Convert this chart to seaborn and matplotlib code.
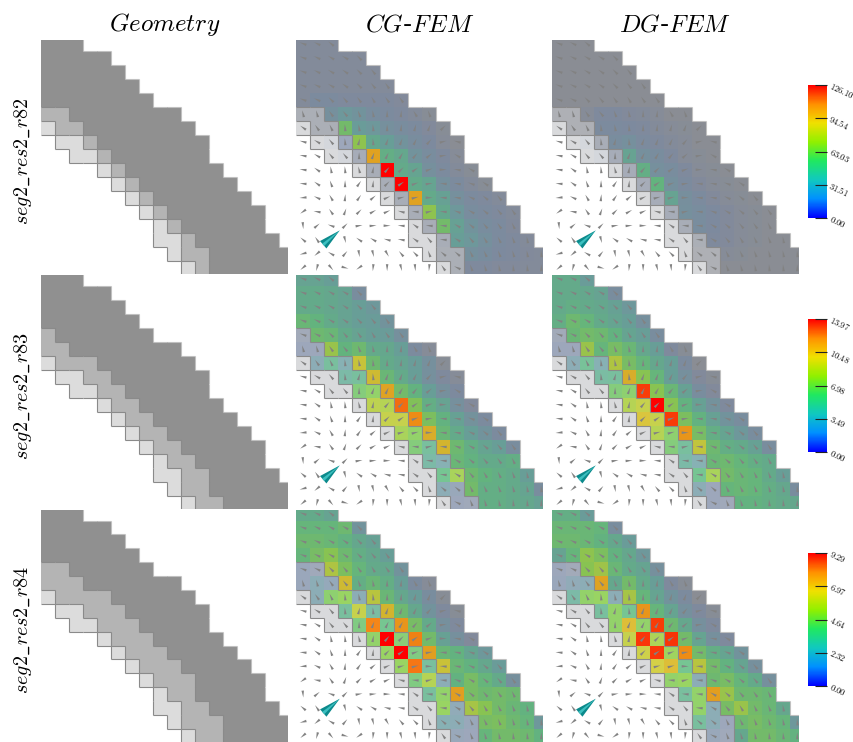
import numpy as np
import matplotlib
matplotlib.use('Agg')
import matplotlib.pyplot as plt
import seaborn as sns
from matplotlib.colors import LinearSegmentedColormap, ListedColormap, Normalize
from matplotlib.cm import ScalarMappable

plt.rcParams['mathtext.fontset'] = 'cm'

W, H = 854, 742
titles = [r'$\mathit{Geometry}$', r'$\mathit{CG}$-$\mathit{FEM}$', r'$\mathit{DG}$-$\mathit{FEM}$']
row_names = [r'$\mathit{seg2\_res2\_r82}$', r'$\mathit{seg2\_res2\_r83}$', r'$\mathit{seg2\_res2\_r84}$']
vmax_rows = [126.10, 13.97, 9.29]
tick_rows = [[0.00, 31.51, 63.03, 94.54, 126.10],
             [0.00, 3.49, 6.98, 10.48, 13.97],
             [0.00, 2.32, 4.64, 6.97, 9.29]]

# number of filled cells in each row (top right is outside the mesh)
row_len = [3, 5, 6, 7, 8, 10, 11, 12, 12, 13, 14, 15, 16, 16, 17, 18, 18]

# per row: air cells, light cells, mid cells, the rest is dark
geo_r82 = [[0, 0, 0]] * 5 + [[0, 0, 2], [0, 1, 2], [1, 2, 1], [2, 2, 1], [4, 1, 1], [5, 1, 1], [6, 1, 1],
                             [7, 1, 1], [8, 1, 1], [8, 2, 1], [9, 1, 2], [10, 1, 1]]
geo_r83 = [[0, 0, 0]] * 4 + [[0, 0, 1], [0, 0, 2], [0, 1, 3], [1, 2, 2], [2, 2, 2], [4, 1, 2], [5, 1, 2],
                             [6, 1, 2], [7, 1, 2], [8, 1, 2], [8, 2, 2], [9, 1, 2], [10, 1, 2]]
geo_r84 = [[0, 0, 0]] * 4 + [[0, 0, 2], [0, 0, 3], [0, 1, 4], [1, 2, 3], [2, 2, 3], [4, 1, 3], [5, 1, 3],
                             [6, 1, 3], [7, 1, 3], [8, 1, 2], [8, 2, 2], [9, 1, 3], [10, 1, 2]]

# cell values, percent of the colour bar range
cg_r82 = [
    [6, 6, 6],
    [6, 6, 6, 6, 6],
    [6, 6, 6, 6, 6, 6],
    [6, 6, 6, 6, 6, 6, 6],
    [6, 10, 10, 8, 8, 8, 8, 7],
    [3, 3, 14, 18, 16, 12, 10, 8, 6, 4],
    [1, 3, 3, 42, 20, 18, 14, 12, 10, 7, 4],
    [0, 1, 2, 8, 52, 28, 22, 16, 12, 9, 5, 3],
    [0, 0, 1, 2, 5, 75, 32, 28, 16, 12, 8, 5],
    [0, 0, 0, 0, 1, 4, 100, 30, 26, 14, 10, 6, 4],
    [0, 0, 0, 0, 0, 1, 4, 100, 30, 26, 14, 10, 6, 4],
    [0, 0, 0, 0, 0, 0, 1, 4, 75, 30, 24, 14, 10, 8, 6],
    [0, 0, 0, 0, 0, 0, 0, 1, 4, 52, 28, 18, 12, 10, 8, 6],
    [0, 0, 0, 0, 0, 0, 0, 0, 1, 4, 42, 24, 16, 12, 10, 7],
    [0, 0, 0, 0, 0, 0, 0, 0, 1, 1, 4, 22, 18, 14, 10, 8, 6],
    [0, 0, 0, 0, 0, 0, 0, 0, 0, 1, 3, 3, 14, 12, 9, 8, 7, 6],
    [0, 0, 0, 0, 0, 0, 0, 0, 0, 0, 1, 3, 8, 8, 7, 7, 6, 6],
]
dg_r82 = [
    [3, 3, 3],
    [3, 3, 3, 3, 3],
    [3, 3, 3, 3, 3, 3],
    [3, 3, 3, 3, 3, 3, 3],
    [3, 3, 3, 3, 3, 3, 3, 3],
    [2, 2, 5, 8, 8, 7, 6, 5, 3, 3],
    [1, 2, 2, 10, 10, 9, 8, 6, 5, 4, 3],
    [0, 1, 2, 4, 12, 14, 10, 8, 6, 5, 3, 3],
    [0, 0, 1, 2, 5, 25, 14, 12, 8, 5, 4, 3],
    [0, 0, 0, 0, 1, 5, 32, 14, 12, 8, 5, 4, 3],
    [0, 0, 0, 0, 0, 1, 5, 35, 14, 10, 7, 5, 4, 3],
    [0, 0, 0, 0, 0, 0, 1, 5, 25, 13, 10, 7, 5, 4, 3],
    [0, 0, 0, 0, 0, 0, 0, 1, 5, 14, 12, 9, 7, 5, 4, 3],
    [0, 0, 0, 0, 0, 0, 0, 0, 1, 4, 12, 9, 7, 5, 4, 3],
    [0, 0, 0, 0, 0, 0, 0, 0, 1, 1, 3, 8, 7, 5, 4, 3, 3],
    [0, 0, 0, 0, 0, 0, 0, 0, 0, 1, 2, 2, 5, 4, 3, 3, 3, 3],
    [0, 0, 0, 0, 0, 0, 0, 0, 0, 0, 1, 2, 3, 3, 3, 3, 3, 3],
]
cg_r83 = [
    [25, 25, 22],
    [30, 30, 28, 25, 12],
    [30, 30, 28, 25, 22, 18],
    [38, 35, 30, 25, 22, 20, 16],
    [6, 40, 38, 30, 25, 22, 20, 14],
    [8, 8, 55, 35, 40, 30, 28, 22, 10, 5],
    [1, 16, 30, 18, 65, 40, 30, 26, 20, 14, 4],
    [0, 1, 1, 26, 30, 68, 38, 30, 22, 14, 8, 5],
    [0, 0, 1, 1, 42, 48, 75, 42, 34, 22, 14, 9],
    [0, 0, 0, 0, 1, 60, 58, 85, 48, 32, 25, 14, 7],
    [0, 0, 0, 0, 0, 1, 62, 62, 80, 46, 34, 24, 15, 10],
    [0, 0, 0, 0, 0, 0, 1, 55, 48, 72, 38, 30, 22, 16, 10],
    [0, 0, 0, 0, 0, 0, 0, 1, 42, 30, 70, 40, 32, 26, 22, 12],
    [0, 0, 0, 0, 0, 0, 0, 0, 1, 26, 18, 38, 34, 30, 30, 32],
    [0, 0, 0, 0, 0, 0, 0, 0, 1, 1, 34, 55, 40, 35, 32, 30, 22],
    [0, 0, 0, 0, 0, 0, 0, 0, 0, 1, 16, 10, 42, 32, 32, 30, 26, 12],
    [0, 0, 0, 0, 0, 0, 0, 0, 0, 0, 1, 8, 7, 32, 32, 30, 28, 24],
]
dg_r83 = [
    [30, 30, 20],
    [30, 30, 28, 25, 12],
    [30, 32, 30, 28, 24, 18],
    [32, 40, 36, 30, 26, 22, 14],
    [6, 38, 42, 40, 34, 26, 22, 12],
    [8, 8, 55, 36, 44, 38, 28, 22, 8, 4],
    [1, 16, 32, 18, 60, 44, 36, 28, 22, 10, 3],
    [0, 1, 1, 28, 30, 72, 50, 36, 22, 14, 7, 4],
    [0, 0, 1, 1, 42, 46, 92, 50, 38, 24, 12, 7],
    [0, 0, 0, 0, 1, 58, 62, 100, 50, 34, 24, 15, 8],
    [0, 0, 0, 0, 0, 1, 68, 62, 92, 46, 34, 24, 16, 12],
    [0, 0, 0, 0, 0, 0, 1, 58, 46, 78, 44, 32, 26, 18, 12],
    [0, 0, 0, 0, 0, 0, 0, 1, 42, 30, 64, 40, 32, 30, 24, 12],
    [0, 0, 0, 0, 0, 0, 0, 0, 1, 26, 18, 38, 40, 36, 32, 30],
    [0, 0, 0, 0, 0, 0, 0, 0, 1, 1, 34, 55, 42, 38, 36, 30, 22],
    [0, 0, 0, 0, 0, 0, 0, 0, 0, 1, 16, 8, 36, 38, 36, 32, 28, 12],
    [0, 0, 0, 0, 0, 0, 0, 0, 0, 0, 1, 8, 7, 34, 34, 32, 30, 28],
]
cg_r84 = [
    [30, 30, 25],
    [36, 36, 36, 40, 16],
    [40, 40, 38, 34, 28, 24],
    [36, 44, 50, 40, 32, 28, 22],
    [9, 7, 60, 46, 36, 30, 28, 16],
    [9, 16, 12, 68, 32, 38, 32, 22, 10, 5],
    [1, 16, 46, 50, 16, 62, 38, 28, 20, 12, 4],
    [0, 1, 1, 30, 62, 28, 70, 40, 28, 16, 8, 4],
    [0, 0, 1, 1, 40, 82, 35, 78, 44, 30, 14, 8],
    [0, 0, 0, 0, 1, 48, 100, 44, 82, 42, 24, 14, 7],
    [0, 0, 0, 0, 0, 1, 50, 100, 40, 76, 38, 34, 26, 18],
    [0, 0, 0, 0, 0, 0, 1, 50, 84, 30, 66, 38, 34, 28, 20],
    [0, 0, 0, 0, 0, 0, 0, 1, 40, 58, 16, 34, 44, 36, 30, 14],
    [0, 0, 0, 0, 0, 0, 0, 0, 1, 30, 48, 76, 44, 40, 42, 40],
    [0, 0, 0, 0, 0, 0, 0, 0, 1, 1, 50, 14, 58, 50, 42, 38, 34],
    [0, 0, 0, 0, 0, 0, 0, 0, 0, 1, 18, 16, 10, 44, 46, 40, 36, 18],
    [0, 0, 0, 0, 0, 0, 0, 0, 0, 0, 1, 10, 8, 36, 42, 42, 40, 34],
]
dg_r84 = [
    [32, 32, 20],
    [38, 38, 38, 36, 12],
    [40, 40, 38, 34, 28, 20],
    [25, 36, 52, 46, 34, 28, 18],
    [8, 6, 50, 56, 38, 30, 26, 14],
    [9, 14, 16, 75, 28, 42, 30, 22, 8, 4],
    [1, 26, 48, 50, 16, 58, 36, 26, 16, 10, 3],
    [0, 1, 1, 30, 48, 34, 78, 36, 26, 14, 8, 4],
    [0, 0, 1, 1, 48, 70, 48, 92, 40, 28, 14, 8],
    [0, 0, 0, 0, 1, 62, 93, 56, 93, 42, 26, 14, 8],
    [0, 0, 0, 0, 0, 1, 64, 93, 52, 80, 42, 32, 26, 16],
    [0, 0, 0, 0, 0, 0, 1, 65, 70, 34, 62, 42, 34, 26, 14],
    [0, 0, 0, 0, 0, 0, 0, 1, 48, 50, 16, 40, 44, 36, 30, 14],
    [0, 0, 0, 0, 0, 0, 0, 0, 1, 30, 48, 76, 55, 40, 40, 38],
    [0, 0, 0, 0, 0, 0, 0, 0, 1, 1, 48, 16, 44, 55, 42, 38, 28],
    [0, 0, 0, 0, 0, 0, 0, 0, 0, 1, 30, 16, 8, 40, 44, 40, 36, 18],
    [0, 0, 0, 0, 0, 0, 0, 0, 0, 0, 1, 10, 7, 28, 42, 42, 38, 34],
]

# direction of the small cones in degrees, same field in all panels
field_angles = [
    [160, 155, 140],
    [160, 155, 150, 150, 135],
    [160, 155, 150, 145, 135, 130],
    [160, 155, 150, 145, 135, 130, 125],
    [160, 155, 135, 130, 125, 120, 125, 125],
    [105, 105, 125, 130, 110, 100, 90, 85, 120, 110],
    [145, 125, 115, 95, 100, 95, 90, 85, 75, 70, 45],
    [165, 150, 130, 95, 75, 95, 70, 70, 65, 50, 15, 165],
    [170, 150, 130, 130, 90, 70, 65, 60, 50, 40, 10, 150],
    [172, 145, 100, 95, 105, 80, 50, 45, 35, 20, 0, 170, 150],
    [175, 145, 110, 90, 55, 85, 45, 35, 20, 10, 175, 170, 160, 145],
    [185, 155, 120, 85, 55, 40, 25, 15, 15, 0, 175, 170, 155, 140, 130],
    [215, 170, 125, 70, 45, 30, 25, 165, 175, 15, 175, 160, 150, 140, 130, 125],
    [275, 40, 160, 45, 10, 5, 0, 175, 145, 175, 175, 150, 140, 130, 125, 115],
    [140, 125, 45, 285, 145, 150, 165, 170, 145, 130, 175, 150, 130, 120, 115, 110, 100],
    [195, 220, 150, 50, 280, 285, 300, 130, 135, 110, 140, 140, 115, 115, 110, 105, 100, 95],
    [220, 255, 310, 345, 215, 265, 270, 285, 275, 265, 125, 155, 110, 105, 100, 95, 95, 90],
]

# big teal cone
cone_x = 2.53
cone_y = 14.35
cone_angle = 41
cone_len = 1.56

geo_all = [geo_r82, geo_r83, geo_r84]
cg_all = [cg_r82, cg_r83, cg_r84]
dg_all = [dg_r82, dg_r83, dg_r84]

n_rows, n_cols = len(row_len), 18
x_view = (0, 17.62)
y_view = (16.95, 0.24)

rows_px = [(40, 274), (275, 509), (510, 742)]
cols_px = [(41, 288), (296, 543), (552, 799)]
cbars_px = [(85, 218), (319, 452), (553, 686)]

geo_cmap = ListedColormap(['#ffffff', '#dcdcdc', '#b4b4b4', '#909090'])
# colour goes over the grey of the geometry, opacity grows with the value
overlay_cmap = LinearSegmentedColormap.from_list('overlay', [
    (0.00, (0.20, 0.43, 0.87, 0.00)),
    (0.08, (0.20, 0.43, 0.87, 0.18)),
    (0.20, (0.10, 0.72, 0.68, 0.32)),
    (0.35, (0.20, 0.86, 0.42, 0.48)),
    (0.50, (0.50, 0.95, 0.10, 0.52)),
    (0.65, (0.90, 0.88, 0.05, 0.65)),
    (0.80, (1.00, 0.55, 0.00, 0.85)),
    (1.00, (1.00, 0.00, 0.00, 1.00)),
])
bar_cmap = LinearSegmentedColormap.from_list('bar', [
    '#0000ff', '#0090ff', '#10c8c0', '#20e860', '#90f000', '#f0e000', '#ff9000', '#ff0000'])


def pad(rows):
    out = np.full((n_rows, n_cols), np.nan)
    for i, r in enumerate(rows):
        out[i, :len(r)] = r
    return out


def geo_grid(spec):
    out = np.full((n_rows, n_cols), np.nan)
    for i, (air, light, mid) in enumerate(spec):
        out[i, :row_len[i]] = 3
        out[i, :air + light + mid] = 2
        out[i, :air + light] = 1
        out[i, :air] = 0
    return out


def axes_px(x_px, y_px):
    return fig.add_axes([x_px[0] / W, 1 - y_px[1] / H, (x_px[1] - x_px[0]) / W, (y_px[1] - y_px[0]) / H])


def draw_outlines(ax, grid):
    # thin lines where the material changes
    for i in range(n_rows):
        for j in range(n_cols):
            a = grid[i, j]
            if j + 1 < n_cols:
                b = grid[i, j + 1]
                if a != b and not (np.isnan(a) and np.isnan(b)):
                    outer = np.isnan(a) or np.isnan(b)
                    ax.vlines(j + 1, i, i + 1, color='#c0c0c0' if outer else '#8a8a8a', lw=0.8)
            if i + 1 < n_rows:
                b = grid[i + 1, j]
                if a != b and not (np.isnan(a) and np.isnan(b)):
                    outer = np.isnan(a) or np.isnan(b)
                    ax.hlines(i + 1, j, j + 1, color='#c0c0c0' if outer else '#8a8a8a', lw=0.8)


def draw_field(ax):
    ang = np.radians(pad(field_angles))
    yy, xx = np.mgrid[0:n_rows, 0:n_cols]
    ok = ~np.isnan(ang)
    w = 0.02
    ax.quiver(xx[ok] + 0.5, yy[ok] + 0.5, 0.5 * np.cos(ang[ok]), 0.5 * np.sin(ang[ok]),
              color='#828282', pivot='mid', units='xy', scale_units='xy', scale=1, width=w,
              headwidth=9, headlength=25, headaxislength=25, zorder=4)
    a = np.radians(cone_angle)
    u, v = cone_len * np.cos(a), cone_len * np.sin(a)
    for color, w2, hw in [('#0c8a8c', 0.05, 14), ('#3cc0c0', 0.02, 11)]:
        ax.quiver([cone_x], [cone_y], [u], [v], color=color, pivot='mid', units='xy', scale_units='xy',
                  scale=1, width=w2, headwidth=hw, headlength=cone_len / w2, headaxislength=cone_len / w2, zorder=5)


def base_panel(ax, grid):
    sns.heatmap(grid, ax=ax, cmap=geo_cmap, vmin=-0.5, vmax=3.5, cbar=False, xticklabels=False, yticklabels=False)


def finish(ax):
    ax.set_xlim(*x_view)
    ax.set_ylim(*y_view)
    ax.set_xlabel('')
    ax.set_ylabel('')
    ax.tick_params(length=0)
    for s in ax.spines.values():
        s.set_visible(False)


fig = plt.figure(figsize=(W / 100, H / 100), dpi=100)

for r in range(3):
    grid = geo_grid(geo_all[r])
    vmax = vmax_rows[r]

    ax = axes_px(cols_px[0], rows_px[r])
    base_panel(ax, grid)
    draw_outlines(ax, grid)
    finish(ax)

    for c, table in enumerate([cg_all[r], dg_all[r]]):
        ax = axes_px(cols_px[c + 1], rows_px[r])
        base_panel(ax, grid)
        sns.heatmap(pad(table) * vmax / 100, ax=ax, cmap=overlay_cmap, vmin=0, vmax=vmax, cbar=False,
                    xticklabels=False, yticklabels=False)
        draw_outlines(ax, grid)
        draw_field(ax)
        finish(ax)

    cax = axes_px((808, 827), cbars_px[r])
    cb = fig.colorbar(ScalarMappable(Normalize(0, vmax), bar_cmap), cax=cax, ticks=tick_rows[r])
    cb.outline.set_visible(False)
    cb.ax.tick_params(direction='in', length=8.5, width=0.8, color='#222222', pad=2)
    cb.ax.set_yticklabels([f'${t:.2f}$' for t in tick_rows[r]], rotation=-25, fontsize=6.2,
                          rotation_mode='anchor', va='center')

    fig.text(23 / W, 1 - (sum(rows_px[r]) / 2 + 4) / H, row_names[r], rotation=90, ha='center', va='center', fontsize=14.5)

for c, t in enumerate(titles):
    fig.text((sum(cols_px[c]) / 2) / W, 1 - 24 / H, t, ha='center', va='center', fontsize=18)

fig.savefig('out.png', dpi=100)
